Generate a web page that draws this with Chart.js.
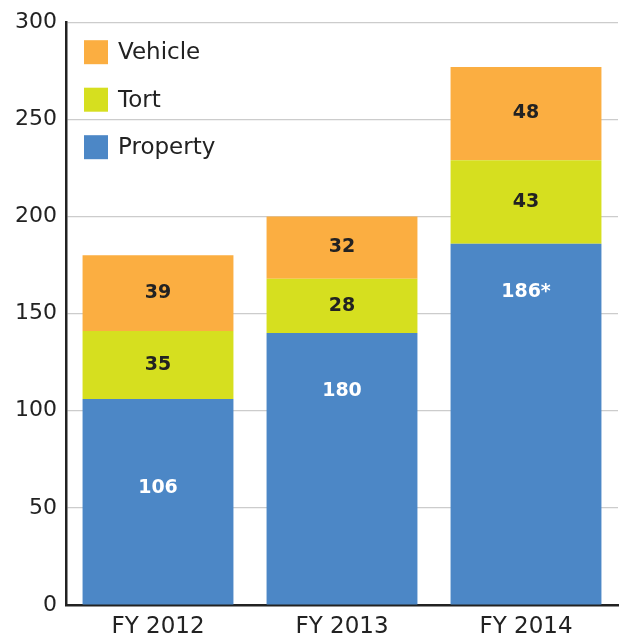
<!DOCTYPE html>
<html>
<head>
<meta charset="utf-8">
<script src="https://cdn.jsdelivr.net/npm/chart.js@4/dist/chart.umd.min.js"></script>
<style>
html,body{margin:0;padding:0;background:#fff;}
canvas{display:block;}
</style>
</head>
<body>
<canvas id="c" width="620" height="636"></canvas>
<script>
const categories = ["FY 2012", "FY 2013", "FY 2014"];
const property = [106, 140, 186];
const tort = [35, 28, 43];
const vehicle = [39, 32, 48];
const propertyLabels = ["106", "180", "186*"];
const tortLabels = ["35", "28", "43"];
const vehicleLabels = ["39", "32", "48"];
const yTicks = [0, 50, 100, 150, 200, 250, 300];

// where the property value labels sit (in axis units); the other labels are centred in their segments
const propertyLabelAt = [60, 110, 161];

const FONT = "'DejaVu Sans', Verdana, sans-serif";

const segLabels = {
  id: 'segLabels',
  afterDatasetsDraw(chart) {
    const ctx = chart.ctx;
    const yScale = chart.scales.y;
    ctx.save();
    ctx.font = "bold 19px " + FONT;
    ctx.textAlign = 'center';
    ctx.textBaseline = 'middle';
    chart.data.datasets.forEach((ds, i) => {
      const meta = chart.getDatasetMeta(i);
      meta.data.forEach((bar, j) => {
        let yc = (bar.y + bar.base) / 2;
        if (ds.labelAt) yc = yScale.getPixelForValue(ds.labelAt[j]);
        ctx.fillStyle = ds.labelColor;
        ctx.fillText(ds.valueLabels[j], bar.x, yc);
      });
    });
    ctx.restore();
  }
};

const innerLegend = {
  id: 'innerLegend',
  afterDraw(chart) {
    const ctx = chart.ctx;
    const a = chart.chartArea;
    ctx.save();
    ctx.font = "23px " + FONT;
    ctx.textBaseline = 'middle';
    ctx.textAlign = 'left';
    const order = [2, 1, 0];
    order.forEach((di, k) => {
      const ds = chart.data.datasets[di];
      const cy = a.top + 30 + k * 47.5;
      ctx.fillStyle = ds.backgroundColor;
      ctx.fillRect(a.left + 18, cy - 12, 24, 24);
      ctx.fillStyle = '#222';
      ctx.fillText(ds.label, a.left + 52, cy + 1);
    });
    ctx.restore();
  }
};

new Chart(document.getElementById('c'), {
  type: 'bar',
  data: {
    labels: categories,
    datasets: [
      { label: 'Property', data: property, backgroundColor: '#4C87C6', valueLabels: propertyLabels, labelColor: '#ffffff', labelAt: propertyLabelAt },
      { label: 'Tort', data: tort, backgroundColor: '#D6DF1F', valueLabels: tortLabels, labelColor: '#222222' },
      { label: 'Vehicle', data: vehicle, backgroundColor: '#FBAE41', valueLabels: vehicleLabels, labelColor: '#222222' }
    ]
  },
  options: {
    responsive: false,
    animation: false,
    events: [],
    layout: { padding: { top: 18, right: 2, left: 0, bottom: 0 } },
    datasets: { bar: { categoryPercentage: 0.82, barPercentage: 1.0, borderWidth: 0 } },
    plugins: { legend: { display: false }, tooltip: { enabled: false } },
    scales: {
      x: {
        stacked: true,
        grid: { display: false, drawTicks: false },
        border: { color: '#222', width: 2.5 },
        ticks: { color: '#222', font: { family: FONT, size: 23 }, padding: 8, maxRotation: 0 },
        afterFit(s) { s.height = 31; }
      },
      y: {
        stacked: true,
        min: 0, max: 300,
        afterBuildTicks(s) { s.ticks = yTicks.map(v => ({ value: v })); },
        grid: { color: '#cccccc', lineWidth: 1.2, drawTicks: false },
        border: { color: '#222', width: 2.5 },
        ticks: { color: '#222', font: { family: FONT, size: 22 }, padding: 9 },
        afterFit(s) { s.width = 66; }
      }
    }
  },
  plugins: [segLabels, innerLegend]
});
</script>
</body>
</html>
